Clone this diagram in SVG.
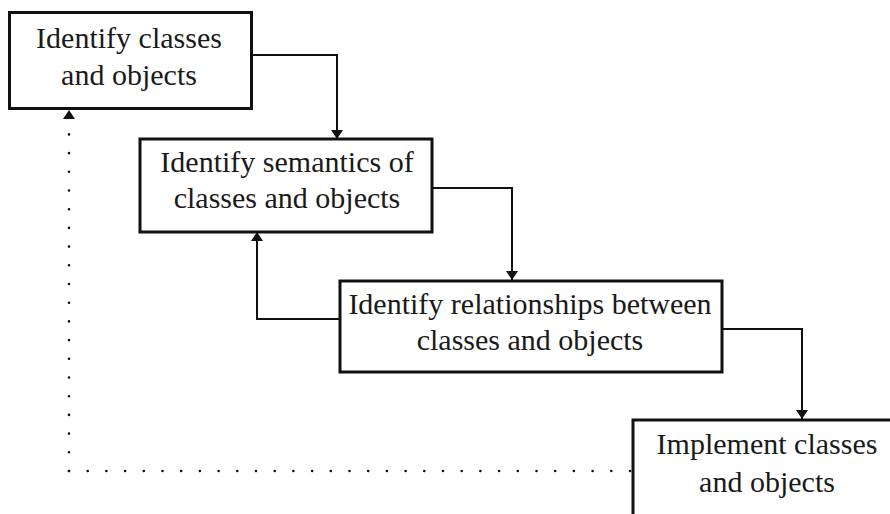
<svg xmlns="http://www.w3.org/2000/svg" width="890" height="514" viewBox="0 0 890 514">
  <style>
    .box { fill: #ffffff; stroke: #111111; stroke-width: 3; }
    .label { font-family: "Liberation Serif", "Times New Roman", serif; font-size: 30px; fill: #1a1a1a; text-anchor: middle; }
    .conn { fill: none; stroke: #111111; stroke-width: 2; }
    .dots { fill: none; stroke: #111111; stroke-width: 2.6; stroke-linecap: round; stroke-dasharray: 0 18.7; }
  </style>
  <defs>
    <marker id="arrow" markerUnits="userSpaceOnUse" viewBox="0 0 9 12" markerWidth="9" markerHeight="12" refX="9" refY="6" orient="auto">
      <path d="M0,0 L9,6 L0,12 z" fill="#111111"/>
    </marker>
  </defs>
  <rect width="890" height="514" fill="#ffffff"/>

  <g id="connectors">
    <path class="conn" d="M252 55 H337 V139" marker-end="url(#arrow)"/>
    <path class="conn" d="M432 188 H512 V280" marker-end="url(#arrow)"/>
    <path class="conn" d="M722 329 H802 V419" marker-end="url(#arrow)"/>
    <path class="conn" d="M340 319 H257 V232" marker-end="url(#arrow)"/>
    <path class="dots" d="M69 471 H631"/>
    <path class="dots" d="M69 471 V110" marker-end="url(#arrow)"/>
  </g>

  <g id="identify-classes">
    <rect class="box" x="9.5" y="12.5" width="242" height="96"/>
    <text class="label" x="129" y="48">Identify classes</text>
    <text class="label" x="129" y="85">and objects</text>
  </g>

  <g id="identify-semantics">
    <rect class="box" x="140" y="139" width="292" height="93"/>
    <text class="label" x="287" y="172">Identify semantics of</text>
    <text class="label" x="287" y="208">classes and objects</text>
  </g>

  <g id="identify-relationships">
    <rect class="box" x="340" y="281" width="382" height="91"/>
    <text class="label" x="530" y="314">Identify relationships between</text>
    <text class="label" x="530" y="350">classes and objects</text>
  </g>

  <g id="implement-classes">
    <rect class="box" x="633" y="420" width="270" height="120"/>
    <text class="label" x="767" y="454">Implement classes</text>
    <text class="label" x="767" y="492">and objects</text>
  </g>
</svg>
